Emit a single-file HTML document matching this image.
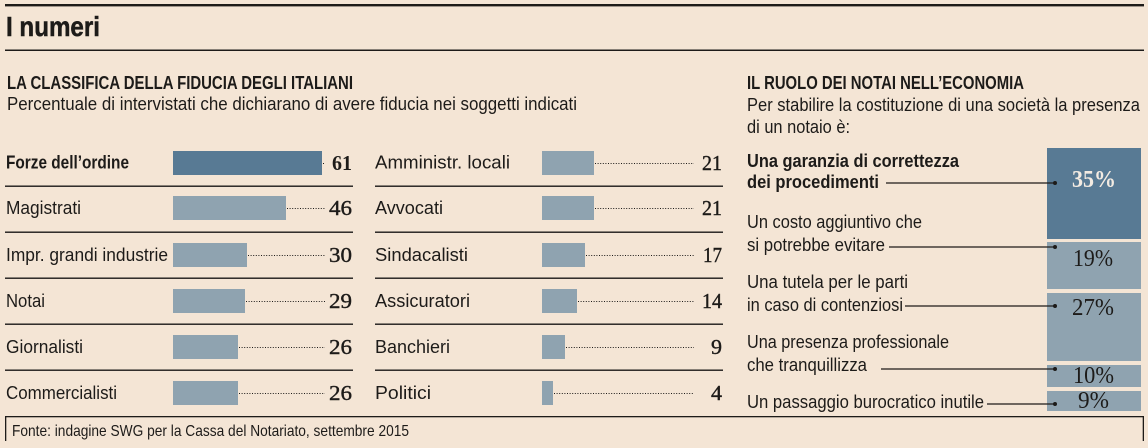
<!DOCTYPE html>
<html><head><meta charset="utf-8"><style>
html,body{margin:0;padding:0;background:#f4e5d5;}
svg{display:block;}
text{font-family:"Liberation Sans Narrow","Liberation Sans",sans-serif;fill:#1d1b19;}
.s{font-size:18px;}
.b{font-weight:bold;}
.n{font-family:"Liberation Serif",serif;font-size:21px;}
.p{font-family:"Liberation Serif",serif;font-size:24px;}
</style></head><body>
<svg width="1148" height="448" viewBox="0 0 1148 448" xmlns="http://www.w3.org/2000/svg">
<rect width="1148" height="448" fill="#f4e5d5"/>
<!-- rules -->
<rect x="5" y="4" width="1139" height="2.4" fill="#1d1b19"/>
<rect x="5" y="49.5" width="1139" height="1.5" fill="#1d1b19"/>
<text x="6" y="36" class="b" font-size="28" textLength="94" lengthAdjust="spacingAndGlyphs" stroke="#1d1b19" stroke-width="0.5">I numeri</text>

<text x="7" y="89" class="b" font-size="18" textLength="346" lengthAdjust="spacingAndGlyphs">LA CLASSIFICA DELLA FIDUCIA DEGLI ITALIANI</text>
<text x="7" y="110" class="s" textLength="570" lengthAdjust="spacingAndGlyphs">Percentuale di intervistati che dichiarano di avere fiducia nei soggetti indicati</text>

<text x="747" y="89" class="b" font-size="18" textLength="277" lengthAdjust="spacingAndGlyphs">IL RUOLO DEI NOTAI NELL’ECONOMIA</text>
<text x="747" y="111" class="s" textLength="393" lengthAdjust="spacingAndGlyphs">Per stabilire la costituzione di una società la presenza</text>
<text x="747" y="133" class="s" textLength="103" lengthAdjust="spacingAndGlyphs">di un notaio è:</text>

<!-- separators -->
<g fill="#1d1b19">
<rect x="5" y="185.5" width="348" height="1.4"/>
<rect x="5" y="231.5" width="348" height="1.4"/>
<rect x="5" y="277.5" width="348" height="1.4"/>
<rect x="5" y="323.5" width="348" height="1.4"/>
<rect x="5" y="369.5" width="348" height="1.4"/>
<rect x="375" y="185.5" width="348" height="1.4"/>
<rect x="375" y="231.5" width="348" height="1.4"/>
<rect x="375" y="277.5" width="348" height="1.4"/>
<rect x="375" y="323.5" width="348" height="1.4"/>
<rect x="375" y="369.5" width="348" height="1.4"/>
</g>

<!-- left bars -->
<rect x="173" y="151" width="149" height="24" fill="#587a94"/>
<rect x="173" y="196" width="113" height="24" fill="#8fa3b0"/>
<rect x="173" y="243" width="74" height="24" fill="#8fa3b0"/>
<rect x="173" y="289" width="72" height="24" fill="#8fa3b0"/>
<rect x="173" y="335" width="65" height="24" fill="#8fa3b0"/>
<rect x="173" y="381" width="65" height="24" fill="#8fa3b0"/>
<!-- right bars -->
<rect x="542" y="151" width="52" height="24" fill="#8fa3b0"/>
<rect x="542" y="196" width="52" height="24" fill="#8fa3b0"/>
<rect x="542" y="243" width="43" height="24" fill="#8fa3b0"/>
<rect x="542" y="289" width="35" height="24" fill="#8fa3b0"/>
<rect x="542" y="335" width="23" height="24" fill="#8fa3b0"/>
<rect x="542" y="381" width="11" height="24" fill="#8fa3b0"/>

<!-- dotted leaders -->
<g stroke="#1d1b19" stroke-width="1" stroke-dasharray="1 1.6">
<line x1="323" y1="163.5" x2="325" y2="163.5"/>
<line x1="287" y1="208.5" x2="325" y2="208.5"/>
<line x1="248" y1="255.5" x2="325" y2="255.5"/>
<line x1="246" y1="301.5" x2="325" y2="301.5"/>
<line x1="239" y1="347.5" x2="325" y2="347.5"/>
<line x1="239" y1="393.5" x2="325" y2="393.5"/>
<line x1="595" y1="163.5" x2="694" y2="163.5"/>
<line x1="595" y1="208.5" x2="694" y2="208.5"/>
<line x1="586" y1="255.5" x2="694" y2="255.5"/>
<line x1="578" y1="301.5" x2="694" y2="301.5"/>
<line x1="566" y1="347.5" x2="694" y2="347.5"/>
<line x1="554" y1="393.5" x2="694" y2="393.5"/>
</g>

<!-- left labels -->
<text x="6" y="168.5" class="s b" textLength="123" lengthAdjust="spacingAndGlyphs">Forze dell’ordine</text>
<text x="6" y="214" class="s" textLength="75" lengthAdjust="spacingAndGlyphs">Magistrati</text>
<text x="6" y="261" class="s" textLength="162" lengthAdjust="spacingAndGlyphs">Impr. grandi industrie</text>
<text x="6" y="307" class="s" textLength="39" lengthAdjust="spacingAndGlyphs">Notai</text>
<text x="6" y="353" class="s" textLength="77" lengthAdjust="spacingAndGlyphs">Giornalisti</text>
<text x="6" y="399" class="s" textLength="111" lengthAdjust="spacingAndGlyphs">Commercialisti</text>
<!-- left numbers -->
<text x="332" y="170" class="n b" textLength="20" lengthAdjust="spacingAndGlyphs">61</text>
<text x="329" y="215" class="n" textLength="23" lengthAdjust="spacingAndGlyphs" stroke="#1d1b19" stroke-width="0.4">46</text>
<text x="329" y="262" class="n" textLength="23" lengthAdjust="spacingAndGlyphs" stroke="#1d1b19" stroke-width="0.4">30</text>
<text x="329" y="308" class="n" textLength="23" lengthAdjust="spacingAndGlyphs" stroke="#1d1b19" stroke-width="0.4">29</text>
<text x="329" y="354" class="n" textLength="23" lengthAdjust="spacingAndGlyphs" stroke="#1d1b19" stroke-width="0.4">26</text>
<text x="329" y="400" class="n" textLength="23" lengthAdjust="spacingAndGlyphs" stroke="#1d1b19" stroke-width="0.4">26</text>

<!-- right labels -->
<text x="375" y="168.5" class="s" textLength="135" lengthAdjust="spacingAndGlyphs">Amministr. locali</text>
<text x="375" y="214" class="s" textLength="68" lengthAdjust="spacingAndGlyphs">Avvocati</text>
<text x="375" y="261" class="s" textLength="93" lengthAdjust="spacingAndGlyphs">Sindacalisti</text>
<text x="375" y="307" class="s" textLength="95" lengthAdjust="spacingAndGlyphs">Assicuratori</text>
<text x="375" y="353" class="s" textLength="75" lengthAdjust="spacingAndGlyphs">Banchieri</text>
<text x="375" y="399" class="s" textLength="56" lengthAdjust="spacingAndGlyphs">Politici</text>
<!-- right numbers -->
<text x="702" y="170" class="n" textLength="20" lengthAdjust="spacingAndGlyphs" stroke="#1d1b19" stroke-width="0.4">21</text>
<text x="702" y="215" class="n" textLength="20" lengthAdjust="spacingAndGlyphs" stroke="#1d1b19" stroke-width="0.4">21</text>
<text x="703" y="262" class="n" textLength="19" lengthAdjust="spacingAndGlyphs" stroke="#1d1b19" stroke-width="0.4">17</text>
<text x="702" y="308" class="n" textLength="20" lengthAdjust="spacingAndGlyphs" stroke="#1d1b19" stroke-width="0.4">14</text>
<text x="711" y="354" class="n" textLength="11" lengthAdjust="spacingAndGlyphs" stroke="#1d1b19" stroke-width="0.4">9</text>
<text x="711" y="400" class="n" textLength="11" lengthAdjust="spacingAndGlyphs" stroke="#1d1b19" stroke-width="0.4">4</text>

<!-- stacked boxes -->
<rect x="1047" y="148" width="94" height="91" fill="#587a94"/>
<rect x="1047" y="242" width="94" height="47" fill="#8fa3b0"/>
<rect x="1047" y="293" width="94" height="68" fill="#8fa3b0"/>
<rect x="1047" y="365" width="94" height="22" fill="#8fa3b0"/>
<rect x="1047" y="391" width="94" height="20" fill="#8fa3b0"/>
<text x="1072" y="187" class="p b" style="fill:#f3ebe2" textLength="44" lengthAdjust="spacingAndGlyphs">35%</text>
<text x="1073" y="266" class="p" textLength="40" lengthAdjust="spacingAndGlyphs">19%</text>
<text x="1072" y="315" class="p" textLength="42" lengthAdjust="spacingAndGlyphs">27%</text>
<text x="1073" y="383" class="p" textLength="41" lengthAdjust="spacingAndGlyphs">10%</text>
<text x="1078" y="408" class="p" textLength="31" lengthAdjust="spacingAndGlyphs">9%</text>

<!-- right panel labels -->
<text x="747" y="167" class="s b" textLength="212" lengthAdjust="spacingAndGlyphs">Una garanzia di correttezza</text>
<text x="747" y="188" class="s b" textLength="132" lengthAdjust="spacingAndGlyphs">dei procedimenti</text>
<text x="747" y="228" class="s" textLength="175" lengthAdjust="spacingAndGlyphs">Un costo aggiuntivo che</text>
<text x="747" y="251" class="s" textLength="138" lengthAdjust="spacingAndGlyphs">si potrebbe evitare</text>
<text x="747" y="288" class="s" textLength="161" lengthAdjust="spacingAndGlyphs">Una tutela per le parti</text>
<text x="747" y="311" class="s" textLength="156" lengthAdjust="spacingAndGlyphs">in caso di contenziosi</text>
<text x="747" y="348" class="s" textLength="202" lengthAdjust="spacingAndGlyphs">Una presenza professionale</text>
<text x="747" y="371" class="s" textLength="120" lengthAdjust="spacingAndGlyphs">che tranquillizza</text>
<text x="747" y="408" class="s" textLength="237" lengthAdjust="spacingAndGlyphs">Un passaggio burocratico inutile</text>

<!-- connectors -->
<g stroke="#1d1b19" stroke-width="1.3">
<line x1="886" y1="183" x2="1055" y2="183"/>
<line x1="889" y1="247" x2="1055" y2="247"/>
<line x1="905" y1="306" x2="1055" y2="306"/>
<line x1="881" y1="369" x2="1055" y2="369"/>
<line x1="987" y1="404" x2="1055" y2="404"/>
</g>
<g fill="#1d1b19">
<circle cx="1055" cy="183" r="2"/>
<circle cx="1055" cy="247" r="2"/>
<circle cx="1055" cy="306" r="2"/>
<circle cx="1055" cy="369" r="2"/>
<circle cx="1055" cy="404" r="2"/>
</g>

<!-- footnote box -->
<rect x="5" y="416" width="1139" height="1.3" fill="#1d1b19"/>
<rect x="5" y="416" width="1.3" height="25" fill="#1d1b19"/>
<rect x="1142.7" y="416" width="1.3" height="25" fill="#1d1b19"/>
<text x="12" y="436" font-size="16" textLength="397" lengthAdjust="spacingAndGlyphs">Fonte: indagine SWG per la Cassa del Notariato, settembre 2015</text>
</svg>
</body></html>
